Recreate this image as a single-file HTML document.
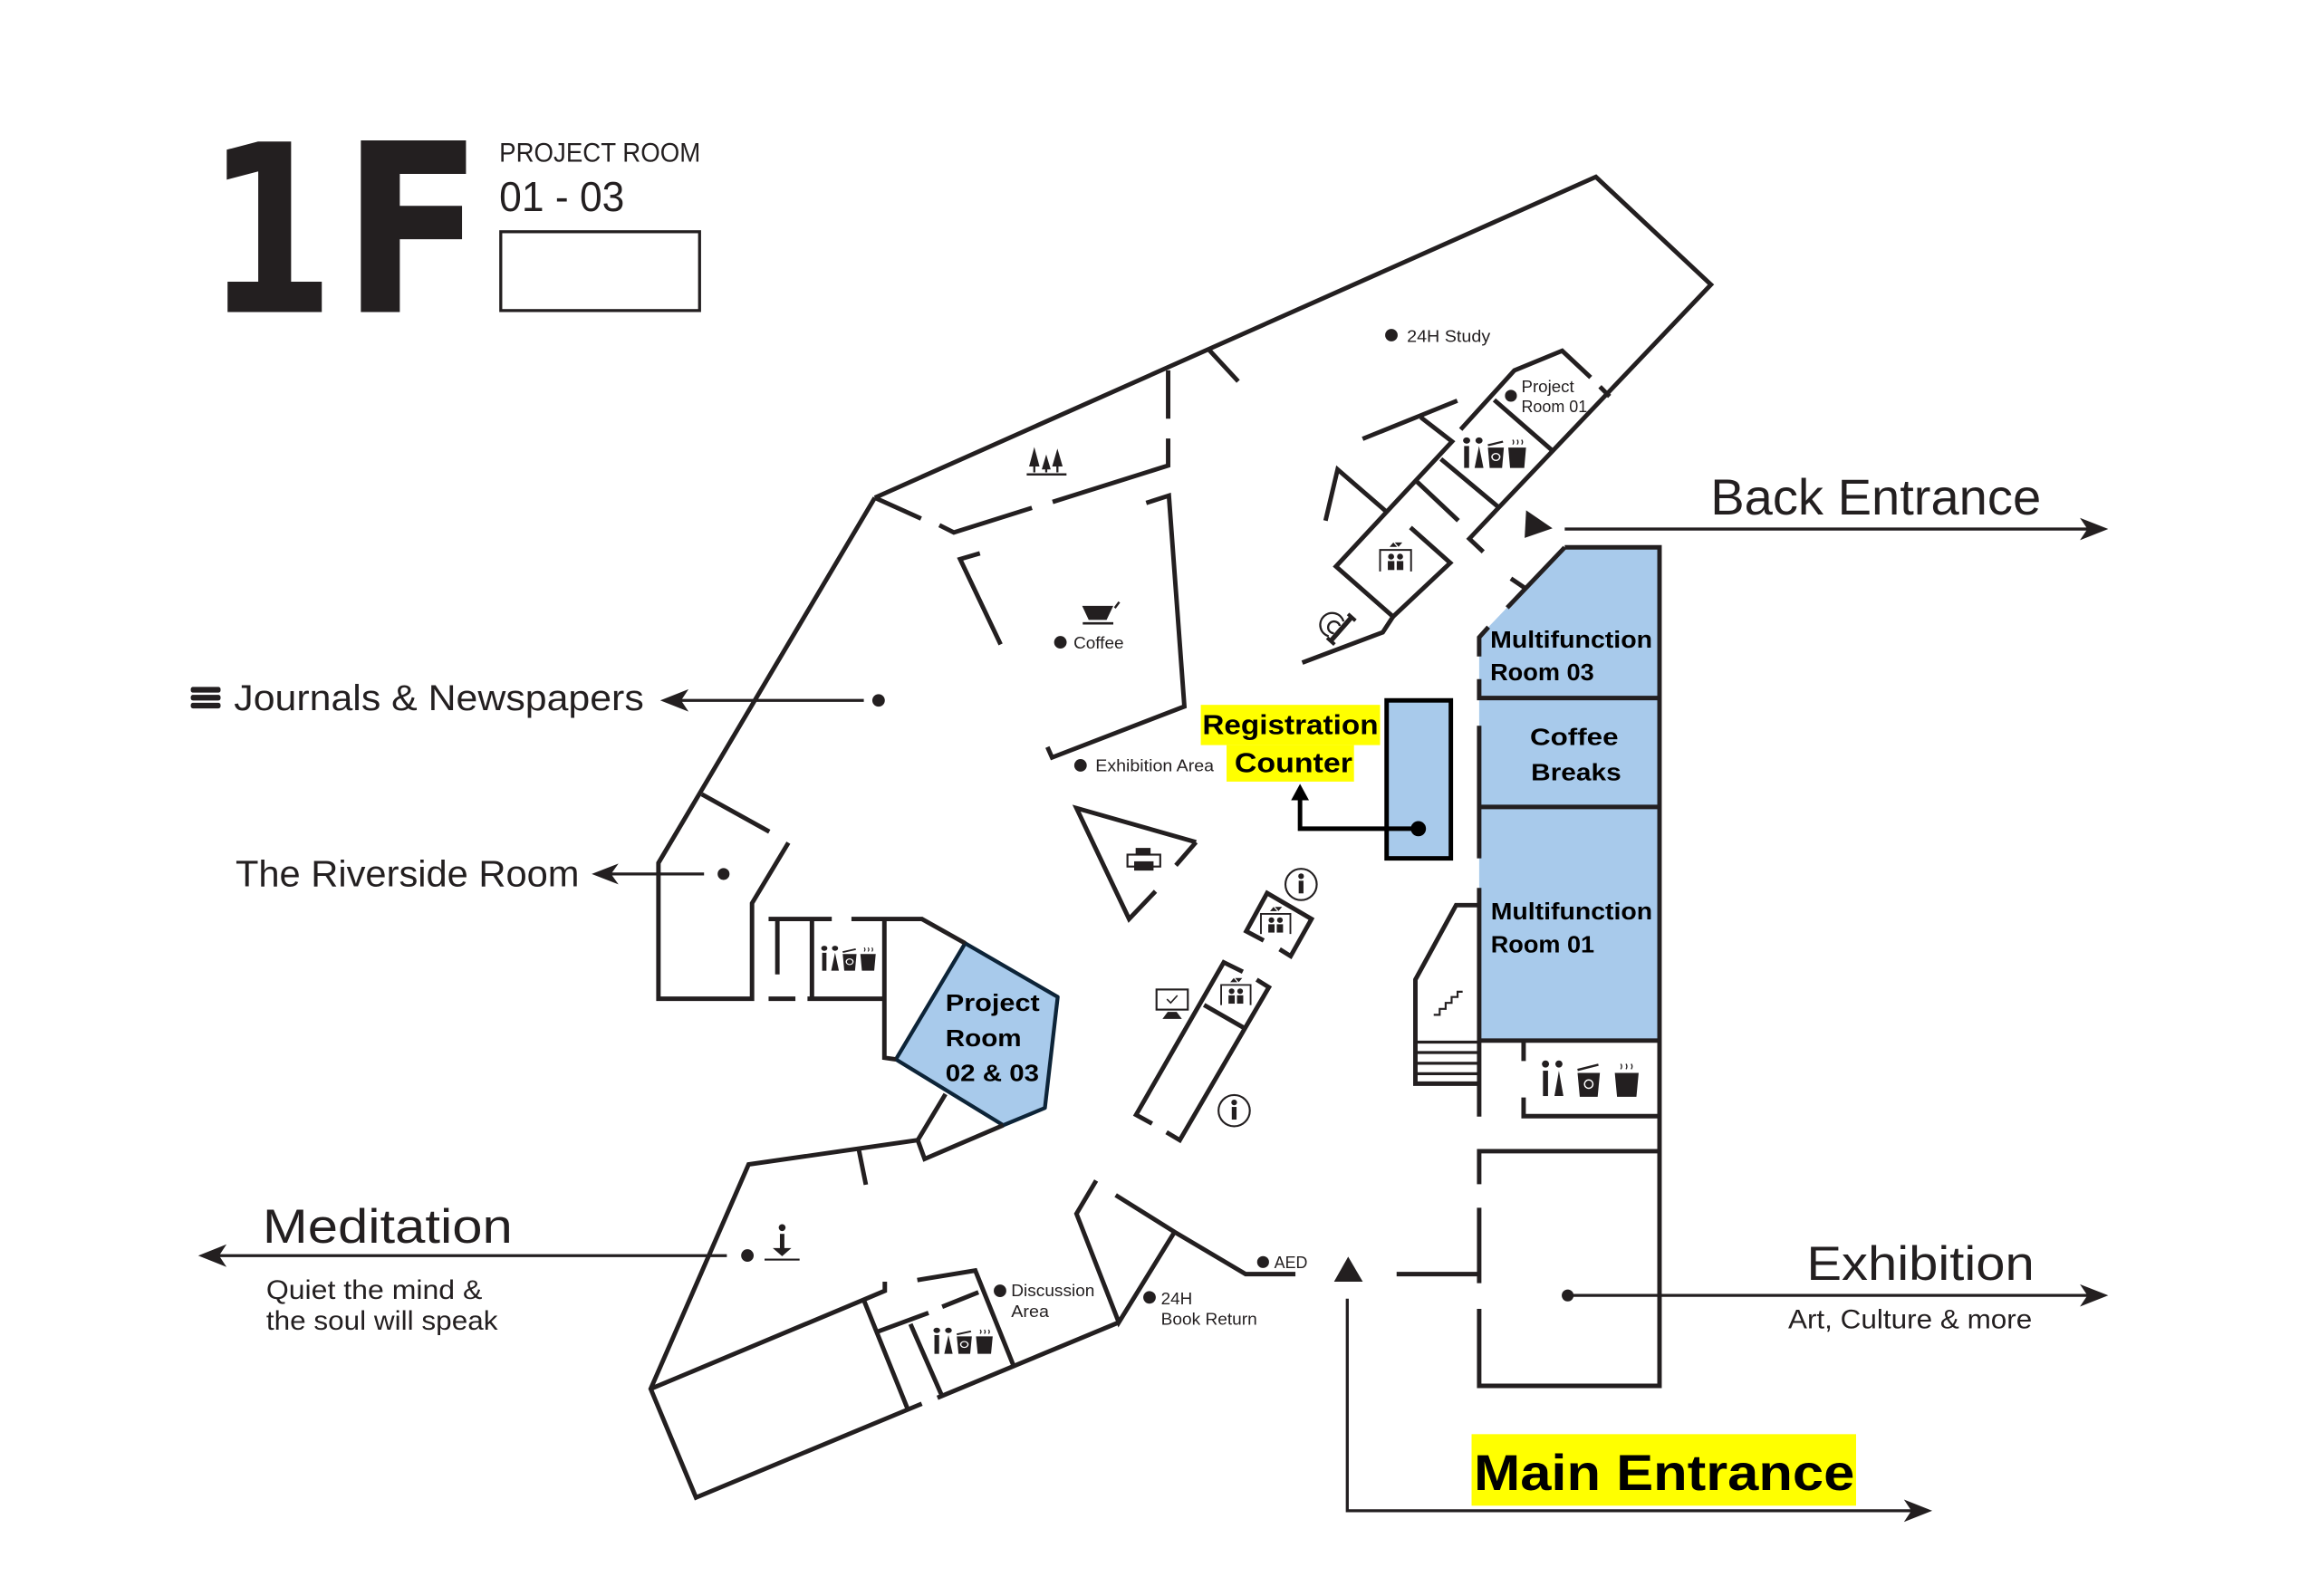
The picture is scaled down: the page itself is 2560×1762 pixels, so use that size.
<!DOCTYPE html>
<html><head><meta charset="utf-8"><style>
html,body{margin:0;padding:0;background:#fff;}
body{width:2560px;height:1762px;overflow:hidden;}
svg{display:block;}
.w{fill:none;stroke:#231f20;stroke-width:3;stroke-linejoin:miter;stroke-linecap:butt;}
.a{fill:none;stroke:#231f20;stroke-width:2;}
.t{font-family:"Liberation Sans",sans-serif;fill:#231f20;}
.b{font-family:"Liberation Sans",sans-serif;font-weight:bold;fill:#000;}
.k{fill:#231f20;}
</style></head><body>
<svg width="2560" height="1762" viewBox="0 0 1556 1071" preserveAspectRatio="none" xmlns="http://www.w3.org/2000/svg">
<rect x="0" y="0" width="1556" height="1071" fill="#fff"/>

<!-- Header -->
<text class="k" transform="translate(150,209.4) scale(0.79,1)" x="-15" y="0" font-family="DejaVu Sans" font-weight="bold" font-size="157">1</text>
<text class="k" transform="translate(243,209.4) scale(0.88,1)" x="-15.5" y="0" font-family="DejaVu Sans" font-weight="bold" font-size="158">F</text>
<text class="t" x="335" y="108.5" font-size="18" textLength="135" lengthAdjust="spacingAndGlyphs">PROJECT ROOM</text>
<text class="t" x="335" y="141.6" font-size="28" textLength="84" lengthAdjust="spacingAndGlyphs">01 - 03</text>
<rect x="336" y="155.5" width="133.4" height="52.9" fill="none" stroke="#231f20" stroke-width="2"/>

<!-- Blue fills -->
<polygon points="1049.9,367.3 1113.5,367.3 1113.5,468.4 992.5,468.4 992.5,428 998.7,420.8" fill="#a8caeb"/>
<rect x="992.5" y="468.4" width="121" height="229.9" fill="#a8caeb"/>
<polygon points="647.6,633 709.7,669 701.1,743.5 673.2,755.1 601.1,710.9" fill="#a8caeb" stroke="#0d2438" stroke-width="2.6" stroke-linejoin="round"/>
<rect x="930.4" y="470" width="43.1" height="106" fill="#a8caeb" stroke="#000" stroke-width="3"/>

<!-- Walls -->
<path class="w" d="M587,334 L1070.8,118.7 L1148,191 L1005.7,340.5 L985.9,361.5 L995.2,370.3"/>
<path class="w" d="M1073.5,259.5 L1080,266"/>
<path class="w" d="M587,334 L618,348 M630.3,352.4 L640,357.3 L692.4,340.8 M706.3,336.8 L783.8,312.4 L783.8,294.3 M783.8,281 L783.8,248.5"/>
<path class="w" d="M811,234.5 L830.8,255.9"/>
<path class="w" d="M657.5,371.3 L644.2,375.2 L671.4,432.4"/>
<path class="w" d="M769.1,337.5 L784.3,332.6 L794.7,474.1 L705.9,508.3 L702.8,501.3"/>
<path class="w" d="M914.3,294.5 L977.8,268.9"/>
<path class="w" d="M953.3,280 L974.3,296.3 L896.4,380.1 L934.7,413.8 L973.1,377.7 L946.4,354"/>
<path class="w" d="M934.7,413.8 L927.8,424.3 L873.8,444.7"/>
<path class="w" d="M966.8,308 L1005.7,340.5"/>
<path class="w" d="M950.6,323.1 L978.5,349.4"/>
<path class="w" d="M889.4,349.4 L897.5,315 L929.6,342.8"/>
<path class="w" d="M980.1,288.2 L1016.1,248.6 L1048.2,235.4 L1067.3,253.3"/>
<path class="w" d="M1002.6,268.4 L1041.3,302.1"/>

<!-- Right column -->
<path class="w" d="M1049.9,367.3 L1113.5,367.3 L1113.5,930 L992.5,930 L992.5,878.3"/>
<path class="w" d="M1049.9,367.3 L1011.3,407.8"/>
<path class="w" d="M998.7,420.8 L992.5,427.7 L992.5,440.5"/>
<path class="w" d="M992.5,455.7 L992.5,468.4 L1113.5,468.4"/>
<path class="w" d="M1013.8,388.2 L1023.1,394.5"/>
<path class="w" d="M992.5,487 L992.5,576"/>
<path class="w" d="M992.5,541.5 L1113.5,541.5"/>
<path class="w" d="M992.5,595.8 L992.5,749.3"/>
<path class="w" d="M992.5,698.3 L1113.5,698.3"/>
<path class="w" d="M992.5,607.4 L977,607.4 L949.7,657.4 L949.7,727.2 L992.5,727.2"/>
<path class="w" style="stroke-width:2" d="M949.7,699.3 H992.5 M949.7,706.3 H992.5 M949.7,713.5 H992.5 M949.7,720.5 H992.5"/>
<path class="w" d="M1022.3,698.3 L1022.3,712 M1022.3,736.5 L1022.3,749 L1113.5,749"/>
<path class="w" d="M992.5,794.7 L992.5,772.5 L1113.5,772.5 M992.5,810.5 L992.5,861.1 M937.1,855 L992.5,855"/>

<!-- Center -->
<path class="w" d="M802.5,565.1 L722.3,542.3 L757.6,616.7 L775.3,598.1 M802.5,565.1 L789,580.7"/>
<path class="w" d="M847.9,631.1 L836.2,624.9 L850.2,599.3 L880,616.7 L866,641.6 L858.6,637"/>
<path class="w" d="M833.9,652.1 L821.1,645.8 L762.3,748.1 L773,754 M782.7,759.8 L791.6,765.1 L851.4,662.5 L843.2,657.4 M807.9,674.4 L835.1,690"/>

<!-- Left -->
<path class="w" d="M587,334 L441.8,579.1 L441.8,670.2 L504.6,670.2 L504.6,606.1 L529,565.5"/>
<path class="w" d="M470.9,533 L516.2,558.1"/>
<path class="w" d="M515.7,616.7 L558.1,616.7 M571.3,616.7 L618.6,616.7 L647.6,633"/>
<path class="w" d="M521.6,616.7 L521.6,653.9 M544.8,616.7 L544.8,670.2 M593.4,616.7 L593.4,709.8 L601.1,710.9"/>
<path class="w" d="M515.7,670.2 L533.7,670.2 M541.8,670.2 L593.4,670.2"/>
<path class="w" d="M634.4,734.2 L615.8,765.1 L620.4,777.7 L673.2,755.1"/>
<path class="w" d="M615.8,765.1 L502.3,781.4 L436.6,932 L467,1004.9 L618.5,942"/>
<path class="w" d="M629,938 L750.7,887.4"/>
<path class="w" d="M576.3,771.7 L581,795"/>
<path class="w" d="M436.6,932 L579.5,872.2 L593.7,866.2 L593.7,860.1"/>
<path class="w" d="M579.5,872.2 L608.9,945.2 M589.2,893.5 L623,881 M610.9,888.5 L632.2,937.1 M632.2,876.9 L656.5,867.2"/>
<path class="w" d="M615.5,859 L654.4,852.6 L679.8,915.8"/>
<path class="w" d="M735.5,792.2 L722.3,814.5 L750.7,887.4 L788.1,826.7"/>
<path class="w" d="M748.6,802 L788.1,826.7 L835.8,855 L869.2,855"/>

<!-- Arrows -->
<path class="a" d="M457,470 L579.6,470"/>
<polygon class="k" points="443,470 462,462.5 457,470 462,477.5"/>
<circle class="k" cx="589.5" cy="470" r="4.2"/>

<path class="a" d="M410,586.5 L472.4,586.5"/>
<polygon class="k" points="397,586.5 415,579.5 410,586.5 415,593.5"/>
<circle class="k" cx="485.5" cy="586.5" r="4"/>

<path class="a" d="M147,842.6 L487.7,842.6"/>
<polygon class="k" points="133,842.6 152,835 147,842.6 152,850.2"/>
<circle class="k" cx="501.5" cy="842.5" r="4.2"/>

<path class="a" d="M1049.9,355 L1401,355"/>
<polygon class="k" points="1414.6,355 1395.6,347.5 1400.6,355 1395.6,362.5"/>
<polygon class="k" points="1024,342.4 1041.7,354.5 1023,361"/>

<path class="a" d="M1051.9,869.3 L1401,869.3"/>
<polygon class="k" points="1414.6,869.3 1395.6,861.8 1400.6,869.3 1395.6,876.8"/>
<circle class="k" cx="1051.9" cy="869.3" r="4"/>

<path class="a" d="M904,871.5 L904,1013.8 L1283,1013.8"/>
<polygon class="k" points="1296.5,1013.8 1277.5,1006.3 1282.5,1013.8 1277.5,1021.3"/>
<polygon class="k" points="904.6,843.3 914.4,860.1 895.1,860.1"/>

<path fill="none" stroke="#000" stroke-width="3" d="M951.7,556.1 L872.3,556.1 L872.3,535"/>
<polygon fill="#000" points="872.3,526 878.3,537 866.3,537"/>
<circle fill="#000" cx="951.7" cy="556.1" r="5.1"/>

<!-- Highlights -->
<rect x="805.7" y="473" width="120.3" height="27" fill="#ffff00"/>
<rect x="823" y="500" width="85.5" height="24.5" fill="#ffff00"/>
<rect x="987.4" y="962.4" width="258" height="48" fill="#ffff00"/>

<!-- Big labels -->
<g fill="#231f20">
<rect x="128" y="461" width="20" height="3.8" rx="1.5"/>
<rect x="128" y="466.3" width="20" height="3.8" rx="1.5"/>
<rect x="128" y="471.6" width="20" height="3.8" rx="1.5"/>
</g>
<text class="t" x="157" y="476.5" font-size="24.5" textLength="275" lengthAdjust="spacingAndGlyphs">Journals &amp; Newspapers</text>
<text class="t" x="158" y="594.7" font-size="25" textLength="230.7" lengthAdjust="spacingAndGlyphs">The Riverside Room</text>
<text class="t" x="176.2" y="834.1" font-size="32" textLength="167.7" lengthAdjust="spacingAndGlyphs">Meditation</text>
<text class="t" x="178.6" y="871.7" font-size="18" textLength="145" lengthAdjust="spacingAndGlyphs">Quiet the mind &amp;</text>
<text class="t" x="178.6" y="892.2" font-size="18" textLength="155.4" lengthAdjust="spacingAndGlyphs">the soul will speak</text>
<text class="t" x="1147.7" y="345.2" font-size="34" textLength="221.8" lengthAdjust="spacingAndGlyphs">Back Entrance</text>
<text class="t" x="1212.2" y="859" font-size="32" textLength="152.8" lengthAdjust="spacingAndGlyphs">Exhibition</text>
<text class="t" x="1199.8" y="891.5" font-size="18" textLength="163.7" lengthAdjust="spacingAndGlyphs">Art, Culture &amp; more</text>
<text class="b" x="988.9" y="1000" font-size="34" textLength="255.5" lengthAdjust="spacingAndGlyphs">Main Entrance</text>
<text class="b" x="806.8" y="492.7" font-size="18.5" textLength="118" lengthAdjust="spacingAndGlyphs">Registration</text>
<text class="b" x="828.4" y="518.3" font-size="18.5" textLength="79" lengthAdjust="spacingAndGlyphs">Counter</text>

<!-- Room labels -->
<text class="b" x="999.9" y="434.7" font-size="16" textLength="108.8" lengthAdjust="spacingAndGlyphs">Multifunction</text>
<text class="b" x="999.9" y="456.4" font-size="16" textLength="69.7" lengthAdjust="spacingAndGlyphs">Room 03</text>
<text class="b" x="1026.6" y="499.9" font-size="16" textLength="59.3" lengthAdjust="spacingAndGlyphs">Coffee</text>
<text class="b" x="1027.3" y="523.8" font-size="16" textLength="60.5" lengthAdjust="spacingAndGlyphs">Breaks</text>
<text class="b" x="1000.3" y="617" font-size="16" textLength="108.4" lengthAdjust="spacingAndGlyphs">Multifunction</text>
<text class="b" x="1000.3" y="639.2" font-size="16" textLength="69.5" lengthAdjust="spacingAndGlyphs">Room 01</text>
<text class="b" x="634.4" y="678.4" font-size="16" textLength="63.2" lengthAdjust="spacingAndGlyphs">Project</text>
<text class="b" x="634.4" y="702.1" font-size="16" textLength="51" lengthAdjust="spacingAndGlyphs">Room</text>
<text class="b" x="634.4" y="725.6" font-size="16" textLength="62.8" lengthAdjust="spacingAndGlyphs">02 &amp; 03</text>

<!-- Small labels -->
<circle class="k" cx="933.6" cy="224.9" r="4.2"/>
<text class="t" x="944" y="229.6" font-size="11.5" textLength="56" lengthAdjust="spacingAndGlyphs">24H Study</text>
<circle class="k" cx="1013.8" cy="265.6" r="4"/>
<text class="t" x="1020.8" y="263.3" font-size="11" textLength="35.4" lengthAdjust="spacingAndGlyphs">Project</text>
<text class="t" x="1020.8" y="276.6" font-size="11" textLength="44.2" lengthAdjust="spacingAndGlyphs">Room 01</text>
<circle class="k" cx="711.5" cy="431" r="4.2"/>
<text class="t" x="720.3" y="435.2" font-size="11.5" textLength="33.7" lengthAdjust="spacingAndGlyphs">Coffee</text>
<circle class="k" cx="725" cy="513.6" r="4.2"/>
<text class="t" x="735" y="517.6" font-size="11" textLength="79.5" lengthAdjust="spacingAndGlyphs">Exhibition Area</text>
<circle class="k" cx="671" cy="866.2" r="4.2"/>
<text class="t" x="678.5" y="869.8" font-size="11" textLength="56" lengthAdjust="spacingAndGlyphs">Discussion</text>
<text class="t" x="678.5" y="883.7" font-size="11" textLength="25.3" lengthAdjust="spacingAndGlyphs">Area</text>
<circle class="k" cx="771.3" cy="870.6" r="4.2"/>
<text class="t" x="779" y="875.3" font-size="11" textLength="21" lengthAdjust="spacingAndGlyphs">24H</text>
<text class="t" x="779" y="888.9" font-size="11" textLength="64.5" lengthAdjust="spacingAndGlyphs">Book Return</text>
<circle class="k" cx="847.5" cy="846.9" r="4"/>
<text class="t" x="855" y="851" font-size="11" textLength="22.3" lengthAdjust="spacingAndGlyphs">AED</text>

<!-- Icons: toilets cluster -->
<g transform="translate(980.5,293) scale(1.19,1.05)" fill="#231f20">
<circle cx="3" cy="2.5" r="2"/><rect x="1.6" y="6" width="2.8" height="14"/>
<circle cx="10" cy="2.5" r="2"/><path d="M10 6 L7.5 20 L12.5 20 Z"/>
<path d="M15 7 L24 7 L23 20 L16 20 Z"/><path d="M15 5.5 L23.5 3.2" stroke="#231f20" stroke-width="1.3"/>
<circle cx="19.5" cy="13" r="2.2" fill="none" stroke="#fff" stroke-width="0.8"/>
<path d="M26.5 7 L36.5 7 L35.5 20 L27.5 20 Z"/>
<path d="M29 5 q1 -1.5 0 -3 M31.5 5 q1 -1.5 0 -3 M34 5 q1 -1.5 0 -3" stroke="#231f20" stroke-width="0.7" fill="none"/>
</g>
<g transform="translate(550,634.2) scale(1.03,0.86)" fill="#231f20">
<circle cx="3" cy="2.5" r="2"/><rect x="1.6" y="6" width="2.8" height="14"/>
<circle cx="10" cy="2.5" r="2"/><path d="M10 6 L7.5 20 L12.5 20 Z"/>
<path d="M15 7 L24 7 L23 20 L16 20 Z"/><path d="M15 5.5 L23.5 3.2" stroke="#231f20" stroke-width="1.3"/>
<circle cx="19.5" cy="13" r="2.2" fill="none" stroke="#fff" stroke-width="0.8"/>
<path d="M26.5 7 L36.5 7 L35.5 20 L27.5 20 Z"/>
<path d="M29 5 q1 -1.5 0 -3 M31.5 5 q1 -1.5 0 -3 M34 5 q1 -1.5 0 -3" stroke="#231f20" stroke-width="0.7" fill="none"/>
</g>
<g transform="translate(625.2,890.5) scale(1.12,0.9)" fill="#231f20">
<circle cx="3" cy="2.5" r="2"/><rect x="1.6" y="6" width="2.8" height="14"/>
<circle cx="10" cy="2.5" r="2"/><path d="M10 6 L7.5 20 L12.5 20 Z"/>
<path d="M15 7 L24 7 L23 20 L16 20 Z"/><path d="M15 5.5 L23.5 3.2" stroke="#231f20" stroke-width="1.3"/>
<circle cx="19.5" cy="13" r="2.2" fill="none" stroke="#fff" stroke-width="0.8"/>
<path d="M26.5 7 L36.5 7 L35.5 20 L27.5 20 Z"/>
<path d="M29 5 q1 -1.5 0 -3 M31.5 5 q1 -1.5 0 -3 M34 5 q1 -1.5 0 -3" stroke="#231f20" stroke-width="0.7" fill="none"/>
</g>
<g transform="translate(1033.5,711)" fill="#231f20">
<circle cx="3.5" cy="3" r="2.4"/><rect x="1.8" y="7.5" width="3.4" height="17"/>
<circle cx="12.5" cy="3" r="2.4"/><path d="M12.5 7.5 L9.5 24.5 L15.5 24.5 Z"/>
<path d="M25 9 L40 9 L38.5 25 L26.5 25 Z"/><path d="M25 7 L39 3.5" stroke="#231f20" stroke-width="1.5"/>
<circle cx="32.5" cy="16.5" r="2.8" fill="none" stroke="#fff" stroke-width="0.9"/>
<path d="M50 9 L66 9 L64.5 25 L51.5 25 Z"/>
<path d="M54 6.5 q1.2 -1.8 0 -3.6 M57.5 6.5 q1.2 -1.8 0 -3.6 M61 6.5 q1.2 -1.8 0 -3.6" stroke="#231f20" stroke-width="0.8" fill="none"/>
</g>

<!-- Trees -->
<g fill="#231f20">
<path d="M694 300 L690.5 313 L697.5 313 Z"/><rect x="693.3" y="312" width="1.4" height="5"/>
<path d="M702 305 L699 315 L705 315 Z"/><rect x="701.3" y="314" width="1.4" height="3"/>
<path d="M709.5 301 L706 313 L713 313 Z"/><rect x="708.8" y="312" width="1.4" height="5"/>
<rect x="688.9" y="317.6" width="26.7" height="1.5"/>
</g>

<!-- Coffee cup -->
<g fill="#231f20">
<path d="M726.1 406.6 L747 406.6 L742.5 416 L730.5 416 Z"/>
<path d="M748 408 L751 404" stroke="#231f20" stroke-width="1.5"/>
<rect x="726.5" y="417.5" width="20.5" height="1.6"/>
</g>

<!-- Printer -->
<g>
<rect x="762" y="569" width="10" height="5" fill="#231f20"/>
<rect x="756.5" y="573.5" width="22" height="8" fill="#fff" stroke="#231f20" stroke-width="1.3"/>
<rect x="761" y="578" width="13" height="6.2" fill="#231f20"/>
</g>

<!-- Elevators -->
<g transform="translate(925.4,364)" stroke="#231f20" fill="#231f20">
<path d="M0.6 19.5 V5 H21.4 V19.5" fill="none" stroke-width="1.2"/>
<path d="M7 3 L9.5 0 L12 3 Z M10.5 0 L13 3 L15.5 0 Z" stroke="none"/>
<circle cx="8" cy="9.5" r="2" stroke="none"/><circle cx="14" cy="9.5" r="2" stroke="none"/>
<rect x="5.8" y="12.5" width="4.4" height="6" stroke="none"/><rect x="11.8" y="12.5" width="4.4" height="6" stroke="none"/>
</g>
<g transform="translate(845.5,608.6) scale(0.95,0.93)" stroke="#231f20" fill="#231f20">
<path d="M0.6 19.5 V5 H21.4 V19.5" fill="none" stroke-width="1.2"/>
<path d="M7 3 L9.5 0 L12 3 Z M10.5 0 L13 3 L15.5 0 Z" stroke="none"/>
<circle cx="8" cy="9.5" r="2" stroke="none"/><circle cx="14" cy="9.5" r="2" stroke="none"/>
<rect x="5.8" y="12.5" width="4.4" height="6" stroke="none"/><rect x="11.8" y="12.5" width="4.4" height="6" stroke="none"/>
</g>
<g transform="translate(818.8,656.3) scale(0.95,0.93)" stroke="#231f20" fill="#231f20">
<path d="M0.6 19.5 V5 H21.4 V19.5" fill="none" stroke-width="1.2"/>
<path d="M7 3 L9.5 0 L12 3 Z M10.5 0 L13 3 L15.5 0 Z" stroke="none"/>
<circle cx="8" cy="9.5" r="2" stroke="none"/><circle cx="14" cy="9.5" r="2" stroke="none"/>
<rect x="5.8" y="12.5" width="4.4" height="6" stroke="none"/><rect x="11.8" y="12.5" width="4.4" height="6" stroke="none"/>
</g>

<!-- Computer -->
<g>
<rect x="776" y="664" width="21" height="13.5" fill="#fff" stroke="#231f20" stroke-width="1.3"/>
<path d="M783 670.5 L785.5 673 L790 668" fill="none" stroke="#231f20" stroke-width="1"/>
<path d="M783.5 679 L789.5 679 L793 683.7 L780 683.7 Z" fill="#231f20"/>
</g>

<!-- Info circles -->
<g>
<circle cx="873" cy="593.5" r="10.5" fill="#fff" stroke="#231f20" stroke-width="1.3"/>
<circle cx="873" cy="588" r="1.9" fill="#231f20"/><rect x="871.4" y="591" width="3.2" height="8.5" fill="#231f20"/>
<circle cx="828.1" cy="745.3" r="10.5" fill="#fff" stroke="#231f20" stroke-width="1.3"/>
<circle cx="828.1" cy="739.8" r="1.9" fill="#231f20"/><rect x="826.5" y="742.8" width="3.2" height="8.5" fill="#231f20"/>
</g>

<!-- Hearing loop -->
<g fill="none" stroke="#231f20" stroke-width="1.4">
<path d="M895 425 A4 4 0 1 1 899 420"/>
<path d="M891.5 427 A8 8 0 1 1 901.5 417"/>
<path d="M907 414 L893 430" stroke-width="3.2"/>
<path d="M904.5 412 L909.5 416.5 M890.5 428 L895.5 432.5" stroke-width="2.4"/>
</g>

<!-- Stairs icon -->
<path d="M962 681 L966 681 L966 677 L970 677 L970 673 L974 673 L974 669 L978 669 L978 665.5 L981.4 665.5" fill="none" stroke="#231f20" stroke-width="1.3"/>

<!-- Meditation icon -->
<g fill="#231f20">
<circle cx="524.8" cy="823.8" r="2.3"/>
<rect x="523.3" y="828" width="3" height="10"/>
<path d="M518.5 837.5 L531 837.5 L524.8 843 Z"/>
<rect x="513" y="844.6" width="23.5" height="1.3"/>
</g>

</svg>
</body></html>
